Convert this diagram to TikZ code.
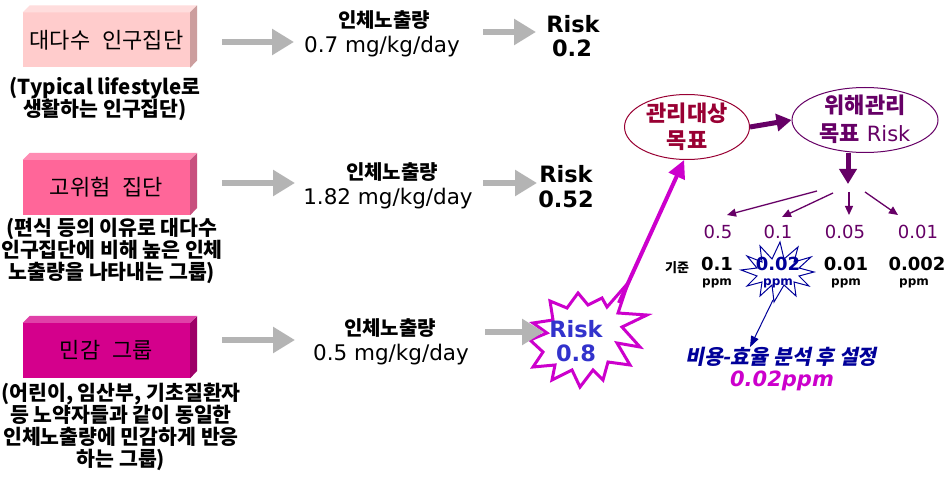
\documentclass[tikz,border=0pt]{standalone}
\usepackage{fontspec}
\setmainfont{DejaVu Sans}
\newfontfamily\kr{Noto Sans CJK KR}
\newfontfamily\kri[FakeSlant=0.2]{Noto Sans CJK KR}
\usetikzlibrary{arrows.meta,shapes.geometric}
\definecolor{bxA}{HTML}{FFCCCC}\definecolor{bxAt}{HTML}{FFDDDD}\definecolor{bxAs}{HTML}{CC9E9E}
\definecolor{bxB}{HTML}{FF6699}\definecolor{bxBt}{HTML}{FF8CB3}\definecolor{bxBs}{HTML}{C8507E}
\definecolor{bxC}{HTML}{D4008C}\definecolor{bxCt}{HTML}{E040A8}\definecolor{bxCs}{HTML}{9E0068}
\definecolor{garr}{HTML}{B4B4B4}
\definecolor{purp}{HTML}{660066}
\definecolor{maro}{HTML}{990033}
\definecolor{mag}{HTML}{CC00CC}
\definecolor{dblue}{HTML}{000099}
\definecolor{rblue}{HTML}{3333CC}
\begin{document}
\begin{tikzpicture}[x=1pt,y=-1pt,
  frontbox/.style={minimum width=167pt,minimum height=55pt,inner sep=0pt,font=\kr\fontsize{22}{24}\selectfont},
  desc/.style={align=center,font=\kr\bfseries\fontsize{20.5}{22}\selectfont,inner sep=0pt},
  expo/.style={font=\kr\bfseries\fontsize{20}{24}\selectfont,inner sep=0pt},
  dose/.style={font=\fontsize{21.5}{24}\selectfont,inner sep=0pt},
  riskt/.style={font=\bfseries\fontsize{22.5}{26}\selectfont,inner sep=0pt},
  grayarrow/.style={draw=garr,line width=6pt,-{Triangle[length=22pt,width=25pt]}},
  purparrow/.style={draw=purp,line width=1.3pt,-{Triangle[length=9pt,width=8pt]}},
  fatarrow/.style={draw=purp,line width=5pt,-{Triangle[length=15pt,width=17pt]}},
  valp/.style={text=purp,font=\fontsize{18}{20}\selectfont,inner sep=0pt},
  valb/.style={font=\bfseries\fontsize{18}{20}\selectfont,inner sep=0pt},
  ppmt/.style={font=\bfseries\fontsize{12}{14}\selectfont,inner sep=0pt}]
\useasboundingbox[fill=white] (0,0) rectangle (949,478);

% ---------- boxes ----------
\node[frontbox,fill=bxA] (b1) at (106.5,40) {대다수\hspace{0.55em}인구집단};
\fill[bxAt] (b1.north west) -- ++(7,-7) -- ++(167,0) -- (b1.north east) -- cycle;
\fill[bxAs] (b1.north east) -- ++(7,-7) -- ++(0,55) -- (b1.south east) -- cycle;

\node[frontbox,fill=bxB] (b2) at (106.5,187.5) {고위험\hspace{0.55em}집단};
\fill[bxBt] (b2.north west) -- ++(7,-7) -- ++(167,0) -- (b2.north east) -- cycle;
\fill[bxBs] (b2.north east) -- ++(7,-7) -- ++(0,55) -- (b2.south east) -- cycle;

\node[frontbox,fill=bxC] (b3) at (106.5,350.5) {민감\hspace{0.55em}그룹};
\fill[bxCt] (b3.north west) -- ++(7,-7) -- ++(167,0) -- (b3.north east) -- cycle;
\fill[bxCs] (b3.north east) -- ++(7,-7) -- ++(0,55) -- (b3.south east) -- cycle;

% ---------- descriptions ----------
\node[desc] (t1) at (105,99) {(Typical lifestyle로\\생활하는 인구집단)};
\node[desc] (t2) at (112,251) {(편식 등의 이유로 대다수\\인구집단에 비해 높은 인체\\노출량을 나타내는 그룹)};
\node[desc] (t3) at (121,427) {(어린이, 임산부, 기초질환자\\등 노약자들과 같이 동일한\\인체노출량에 민감하게 반응\\하는 그룹)};

% ---------- exposure texts ----------
\node[expo] (x1) at (384,20) {인체노출량};
\node[dose] (d1) at (382,47) {0.7 mg/kg/day};
\node[expo] (x2) at (392,172) {인체노출량};
\node[dose] (d2) at (388,199) {1.82 mg/kg/day};
\node[expo] (x3) at (390,328) {인체노출량};
\node[dose] (d3) at (391,355) {0.5 mg/kg/day};

% ---------- risk texts ----------
\node[riskt] (r1) at (573,24) {Risk};
\node[riskt] (v1) at (572,48) {0.2};
\node[riskt] (r2) at (566,174) {Risk};
\node[riskt] (v2) at (566,199) {0.52};

% starburst
\draw[mag,line width=3pt,line join=miter,fill=white]
 (550,301) -- (567,308) -- (578,293) -- (588,305) -- (602,298) -- (607,307) -- (628,283)
 -- (618,313) -- (647,315) -- (622,327) -- (640,347) -- (617,343) -- (630,365) -- (608,362)
 -- (603,380) -- (593,370) -- (580,387) -- (572,370) -- (552,380) -- (555,365) -- (533,367)
 -- (543,352) -- (530,340) -- (547,333) -- (533,323) -- (553,320) -- cycle;
\node[riskt,text=rblue] (r3) at (576,329) {Risk};
\node[riskt,text=rblue] (v3) at (576,353) {0.8};
\coordinate (sbout) at (619,303);

% ---------- gray arrows ----------
\coordinate (a1s) at (222,42);  \coordinate (a1e) at (294,42);
\coordinate (a2s) at (222,183); \coordinate (a2e) at (295,183);
\coordinate (a3s) at (222,340); \coordinate (a3e) at (295,340);
\coordinate (c1s) at (483,32);  \coordinate (c1e) at (536,32);
\coordinate (c2s) at (483,183); \coordinate (c2e) at (537,183);
\coordinate (c3s) at (485,332); \coordinate (c3e) at (544,332);
\foreach \s/\e in {a1s/a1e,a2s/a2e,a3s/a3e,c1s/c1e,c2s/c2e,c3s/c3e}
  \draw[grayarrow] (\s) -- (\e);

% ---------- ellipses ----------
\node[ellipse,draw=maro,line width=1pt,minimum width=125pt,minimum height=65pt,inner sep=0pt] (e1) at (687,127) {};
\node[text=maro,font=\kr\bfseries\fontsize{22}{27}\selectfont,align=center,inner sep=0pt] (e1t) at (687,127) {관리대상\\목표};
\node[ellipse,draw=purp,line width=1pt,minimum width=146pt,minimum height=65pt,inner sep=0pt] (e2) at (865,120) {};
\node[text=purp,font=\kr\bfseries\fontsize{22}{28}\selectfont,inner sep=0pt] (e2a) at (865,105) {위해관리};
\node[text=purp,font=\fontsize{21}{24}\selectfont,inner sep=0pt] (e2b) at (865,134) {{\kr\bfseries\fontsize{22}{24}\selectfont 목표} Risk};

\draw[draw=mag,line width=4pt,-{Triangle[length=18pt,width=17pt]}] (sbout) -- (e1.265);
\draw[fatarrow] (e1.east) -- (e2.west);
\coordinate (dn) at (848,184);
\draw[fatarrow] (e2.south -| dn) -- (dn);

% ---------- fan arrows ----------
\coordinate (f1s) at (817,191); \coordinate (f1e) at (727,215);
\coordinate (f2s) at (833,193); \coordinate (f2e) at (782,217);
\coordinate (f3s) at (849,192); \coordinate (f3e) at (849,215);
\coordinate (f4s) at (865,192); \coordinate (f4e) at (898,215);
\foreach \s/\e in {f1s/f1e,f2s/f2e,f3s/f3e,f4s/f4e}
  \draw[purparrow] (\s) -- (\e);

\node[valp] (p1) at (718,232) {0.5};
\node[valp] (p2) at (778,232) {0.1};
\node[valp] (p3) at (845,232) {0.05};
\node[valp] (p4) at (918,232) {0.01};

% blue starburst
\draw[dblue,line width=1pt,line join=miter]
 (814,272) -- (799,276) -- (809,286) -- (794,282) -- (796,296) -- (784,285) -- (774,302)
 -- (772,285) -- (760,296) -- (762,282) -- (747,286) -- (757,276) -- (741,270) -- (757,268)
 -- (747,256) -- (762,262) -- (760,246) -- (772,259) -- (780,242) -- (784,259) -- (798,247)
 -- (794,262) -- (811,257) -- (799,268) -- cycle;
\coordinate (bsout) at (773,300);

\node[font=\kr\bfseries\fontsize{13}{14}\selectfont,inner sep=0pt] (kj) at (677,268) {기준};
\node[valb] (q1) at (717,264) {0.1};
\node[valb,text=dblue] (q2) at (778,264) {0.02};
\node[valb] (q3) at (846,264) {0.01};
\node[valb] (q4) at (917,264) {0.002};
\node[ppmt] (m1) at (717,283) {ppm};
\node[ppmt,text=dblue] (m2) at (778,283) {ppm};
\node[ppmt] (m3) at (846,283) {ppm};
\node[ppmt] (m4) at (914,283) {ppm};

\node[text=dblue,font=\kri\bfseries\fontsize{20.5}{22}\selectfont,inner sep=0pt] (cb) at (781,357) {비용-효율 분석 후 설정};
\node[text=mag,font=\bfseries\itshape\fontsize{21}{24}\selectfont,inner sep=0pt] (fin) at (782,381) {0.02ppm};
\draw[dblue,line width=1pt,-{Triangle[length=11pt,width=8pt]}] (bsout) -- (cb.north -| 750,0);
\end{tikzpicture}
\end{document}
